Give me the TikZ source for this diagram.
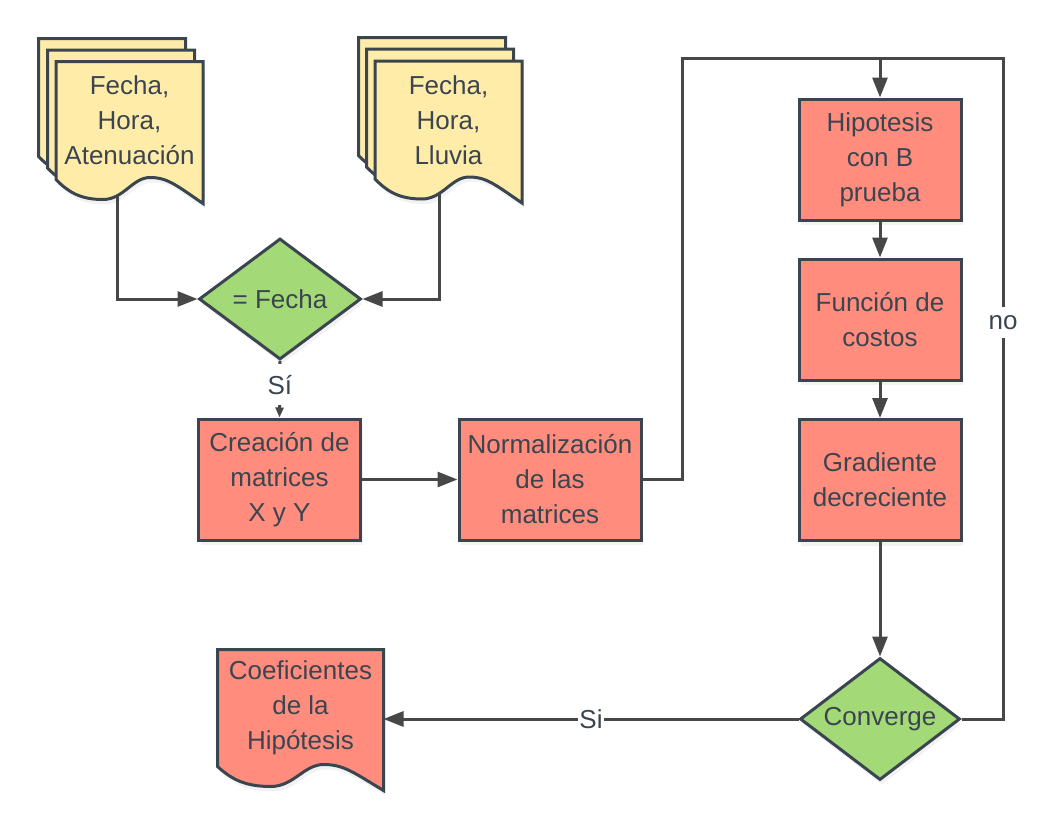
\documentclass[tikz,border=0pt]{standalone}
\usepackage{fontspec}
\setmainfont{Liberation Sans}
\usetikzlibrary{shapes.geometric}
\usetikzlibrary{calc}
\usetikzlibrary{positioning}
\usetikzlibrary{arrows.meta}
\usetikzlibrary{backgrounds}
\usetikzlibrary{shadows}

\definecolor{boxred}{RGB}{255,140,125}
\definecolor{decgreen}{RGB}{163,217,119}
\definecolor{docyellow}{RGB}{255,236,168}
\definecolor{edgegray}{RGB}{59,69,80}
\definecolor{wiregray}{RGB}{71,71,71}

\tikzset{
    txt/.style = {font=\fontsize{26pt}{35pt}\selectfont, text=edgegray, align=center},
    softshadow/.style = {drop shadow={opacity=0.1, shadow xshift=2pt, shadow yshift=-5pt}},
    procbox/.style = {rectangle, draw=edgegray, fill=boxred, line width=3pt, minimum width=162pt, minimum height=121pt, inner sep=0pt, txt, softshadow},
    decide/.style = {diamond, aspect=1.31, draw=edgegray, fill=decgreen, line width=3pt, minimum width=162pt, minimum height=121pt, inner sep=0pt, txt, softshadow},
    docpage/.style = {rectangle, minimum width=144pt, minimum height=115pt, inner sep=0pt, txt},
    docline/.style = {draw=edgegray, line width=3pt},
    docpath/.style = {insert path={
        (#1.north west) -- (#1.north east) -- ($(#1.south east)+(0,24)$)
        .. controls ($(#1.south west)!0.82!(#1.south east)+(0,6)$) and ($(#1.south west)!0.76!(#1.south east)+(0,-2)$) .. ($(#1.south west)!0.64!(#1.south east)+(0,-2)$)
        .. controls ($(#1.south west)!0.52!(#1.south east)+(0,-2)$) and ($(#1.south west)!0.46!(#1.south east)+(0,20)$) .. ($(#1.south west)!0.32!(#1.south east)+(0,20)$)
        .. controls ($(#1.south west)!0.16!(#1.south east)+(0,20)$) and ($(#1.south west)!0.08!(#1.south east)+(0,12)$) .. (#1.south west) -- cycle}},
    flow/.style = {draw=wiregray, line width=3pt, -{Stealth[inset=0pt, length=20pt, width=15pt]}},
    wire/.style = {draw=wiregray, line width=3pt},
}

\begin{document}
\begin{tikzpicture}[x=1pt, y=-1pt, line width=3pt]

    \useasboundingbox (0,0) rectangle (1058,827);

    % input files
    \node (atnB) at (112,97.5) [docpage] {};
    \node (atnM) at (121,109) [docpage] {};
    \node (atn) at (129.5,120.5) [docpage] {Fecha,\\Hora,\\Atenuación};

    \node (llvB) at (432,96.5) [docpage] {};
    \node (llvM) at (440,108) [docpage] {};
    \node (llv) at (448.5,120) [docpage] {Fecha,\\Hora,\\Lluvia};

    \begin{scope}[on grid]
        \node (fecha) at (280,299) [decide] {= Fecha};
        \node (crea) at (279.5,479.5) [procbox] {Creación de\\matrices\\X y Y};
        \node (norm) [procbox, minimum width=182pt, right=270.5pt of crea] {Normalización\\de las\\matrices};

        \node (hipo) at (880,159.5) [procbox] {Hipotesis\\con B\\prueba};
        \node (func) [procbox, below=160pt of hipo] {Función de\\costos};
        \node (grad) [procbox, below=160.5pt of func] {Gradiente\\decreciente};
        \node (conv) [decide, minimum width=160pt, minimum height=122pt, below=239pt of grad] {Converge};

        \node (coef) at (300.5,708) [docpage, minimum width=163pt, minimum height=114pt] {Coeficientes\\de la\\Hipótesis};
    \end{scope}

    \begin{scope}[on background layer]
        \draw[docline, fill=docyellow, docpath=atnB];
        \draw[docline, fill=docyellow, docpath=atnM];
        \draw[docline, fill=docyellow, softshadow, docpath=atn];
        \draw[docline, fill=docyellow, docpath=llvB];
        \draw[docline, fill=docyellow, docpath=llvM];
        \draw[docline, fill=docyellow, softshadow, docpath=llv];
        \draw[docline, fill=boxred, softshadow, docpath=coef];
    \end{scope}

    \coordinate (atnout) at ($(atn.south west)!0.42!(atn.south east)+(0,16)$);
    \coordinate (llvout) at ($(llv.south west)!0.44!(llv.south east)+(0,15)$);
    \coordinate (loopL) at (682,58);
    \coordinate (loopT) at (880,58);
    \coordinate (loopR) at (1003,58);

    \draw[flow] (atnout) |- (fecha.west);
    \draw[flow] (llvout) |- (fecha.east);
    \draw[flow, -{Stealth[inset=0pt, length=10pt, width=8pt]}] (fecha.south) -- (crea.north) node [pos=0.42, fill=white, inner xsep=2pt, inner ysep=11pt, txt] {Sí};
    \draw[flow] (crea) -- (norm);

    \draw[flow] (norm.east) -| (loopL) -- (loopT) -- (hipo.north);
    \draw[flow] (hipo) -- (func);
    \draw[flow] (func) -- (grad);
    \draw[flow] (grad) -- (conv);

    \draw[wire] (conv.east) -| (loopR) node [pos=0.8, fill=white, inner xsep=2pt, inner ysep=8pt, txt] {no} -- (loopT);
    \draw[flow] (conv.west) -- (conv.west -| coef.east) node [midway, fill=white, inner xsep=1pt, inner ysep=2pt, txt] {Si};

\end{tikzpicture}
\end{document}
